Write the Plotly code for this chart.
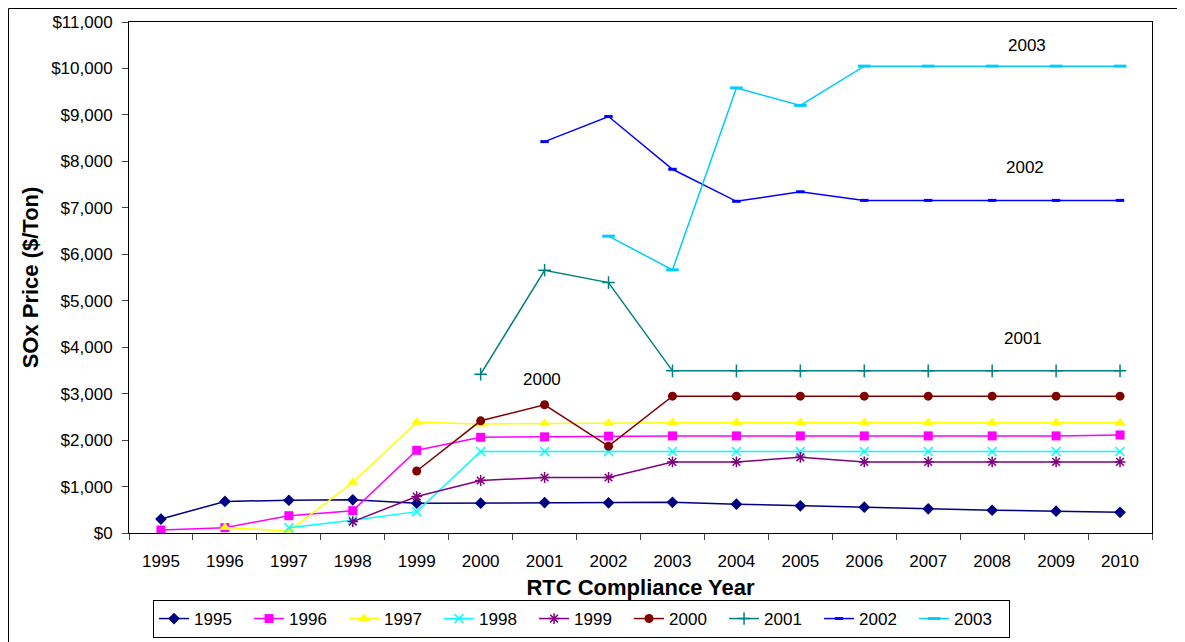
import plotly.graph_objects as go

# data
years = [str(y) for y in range(1995, 2011)]
s1995 = [300, 680, 705, 715, 640, 642, 655, 650, 660, 620, 585, 555, 520, 490, 470, 445]
s1996 = [65, 115, 372, 480, 1780, 2060, 2070, 2085, 2090, 2090, 2090, 2090, 2090, 2090, 2090, 2110]
s1997 = [None, 120, 40, 1090, 2385, 2345, 2360, 2370, 2375, 2375, 2375, 2375, 2375, 2375, 2375, 2375]
s1998 = [None, None, 115, 275, 460, 1755, 1755, 1755, 1755, 1755, 1755, 1755, 1755, 1755, 1755, 1755]
s1999 = [None, None, None, 245, 785, 1130, 1195, 1195, 1530, 1530, 1630, 1530, 1530, 1530, 1530, 1530]
s2000 = [None, None, None, None, 1335, 2415, 2760, 1870, 2945, 2945, 2945, 2945, 2945, 2945, 2945, 2945]
s2001 = [None, None, None, None, None, 3420, 5655, 5390, 3490, 3490, 3490, 3490, 3490, 3490, 3490, 3490]
s2002 = [None, None, None, None, None, None, 8425, 8965, 7830, 7140, 7345, 7160, 7160, 7160, 7160, 7160]
s2003 = [None, None, None, None, None, None, None, 6390, 5665, 9580, 9205, 10050, 10050, 10050, 10050, 10050]

names = ['1995', '1996', '1997', '1998', '1999', '2000', '2001', '2002', '2003']
series = [s1995, s1996, s1997, s1998, s1999, s2000, s2001, s2002, s2003]
colors = ['#000080', '#FF00FF', '#FFFF00', '#00FFFF', '#800080', '#800000', '#008080', '#0000FF', '#00CCFF']
symbols = ['diamond', 'square', 'triangle-up', 'x-thin', 'asterisk', 'circle', 'cross-thin', 'line-ew', 'line-ew']
sizes = [9, 9, 10, 9, 9, 9, 9, 6, 9]

# labels placed next to the curves
label_text = ['2003', '2002', '2001', '2000']
label_x = [13.55, 13.52, 13.49, 5.96]
label_y = [10500, 7860, 4190, 3310]

fig = go.Figure()
for name, vals, c, sym, sz in zip(names, series, colors, symbols, sizes):
    thin = sym in ('x-thin', 'asterisk', 'cross-thin', 'line-ew')
    fig.add_trace(go.Scatter(
        x=years, y=vals, name=name, mode='lines+markers',
        line=dict(color=c, width=1.5),
        marker=dict(symbol=sym, size=sz, color=c,
                    line=dict(color=c, width=3 if sym == 'line-ew' else (1.5 if thin else 0))),
    ))

for t, x, y in zip(label_text, label_x, label_y):
    fig.add_annotation(x=x, y=y, text=t, showarrow=False,
                       font=dict(family='Arial, Liberation Sans', size=17, color='black'))

# outer frame of the chart (page has an 8px body margin)
fig.add_shape(type='rect', xref='paper', yref='paper',
              x0=(0.5 - 121) / 1023, x1=(1170 - 121) / 1023,
              y0=(525 - 640) / 511, y1=(525 - 0.5) / 511,
              line=dict(color='black', width=1))

fig.update_layout(
    width=1177, height=634,
    margin=dict(l=121, r=33, t=14, b=109, autoexpand=False),
    plot_bgcolor='white', paper_bgcolor='white',
    font=dict(family='Arial, Liberation Sans', size=17, color='black'),
    showlegend=True,
    legend=dict(orientation='h', x=0.0235, y=(525 - 630) / 511, xanchor='left', yanchor='bottom',
                bordercolor='black', borderwidth=1, font=dict(size=17),
                itemwidth=30, tracegroupgap=0, entrywidth=50, entrywidthmode='pixels'),
)
fig.update_xaxes(
    type='category', tickson='boundaries', ticks='outside', ticklen=6,
    ticklabelstandoff=13, automargin=False,
    showline=True, linecolor='black', linewidth=1, mirror=True, showgrid=False,
    title=dict(text='RTC Compliance Year', font=dict(size=22, weight='bold'), standoff=9),
    range=[-0.5, 15.5],
)
fig.update_yaxes(
    range=[0, 11000], dtick=1000, tickprefix='$', tickformat=',',
    ticks='outside', ticklen=6, ticklabelstandoff=6, automargin=False,
    showline=True, linecolor='black', linewidth=1, mirror=True,
    showgrid=False, zeroline=False,
    title=dict(text='SOx Price ($/Ton)', font=dict(size=22, weight='bold'), standoff=6),
)

fig.write_html("out.html")
